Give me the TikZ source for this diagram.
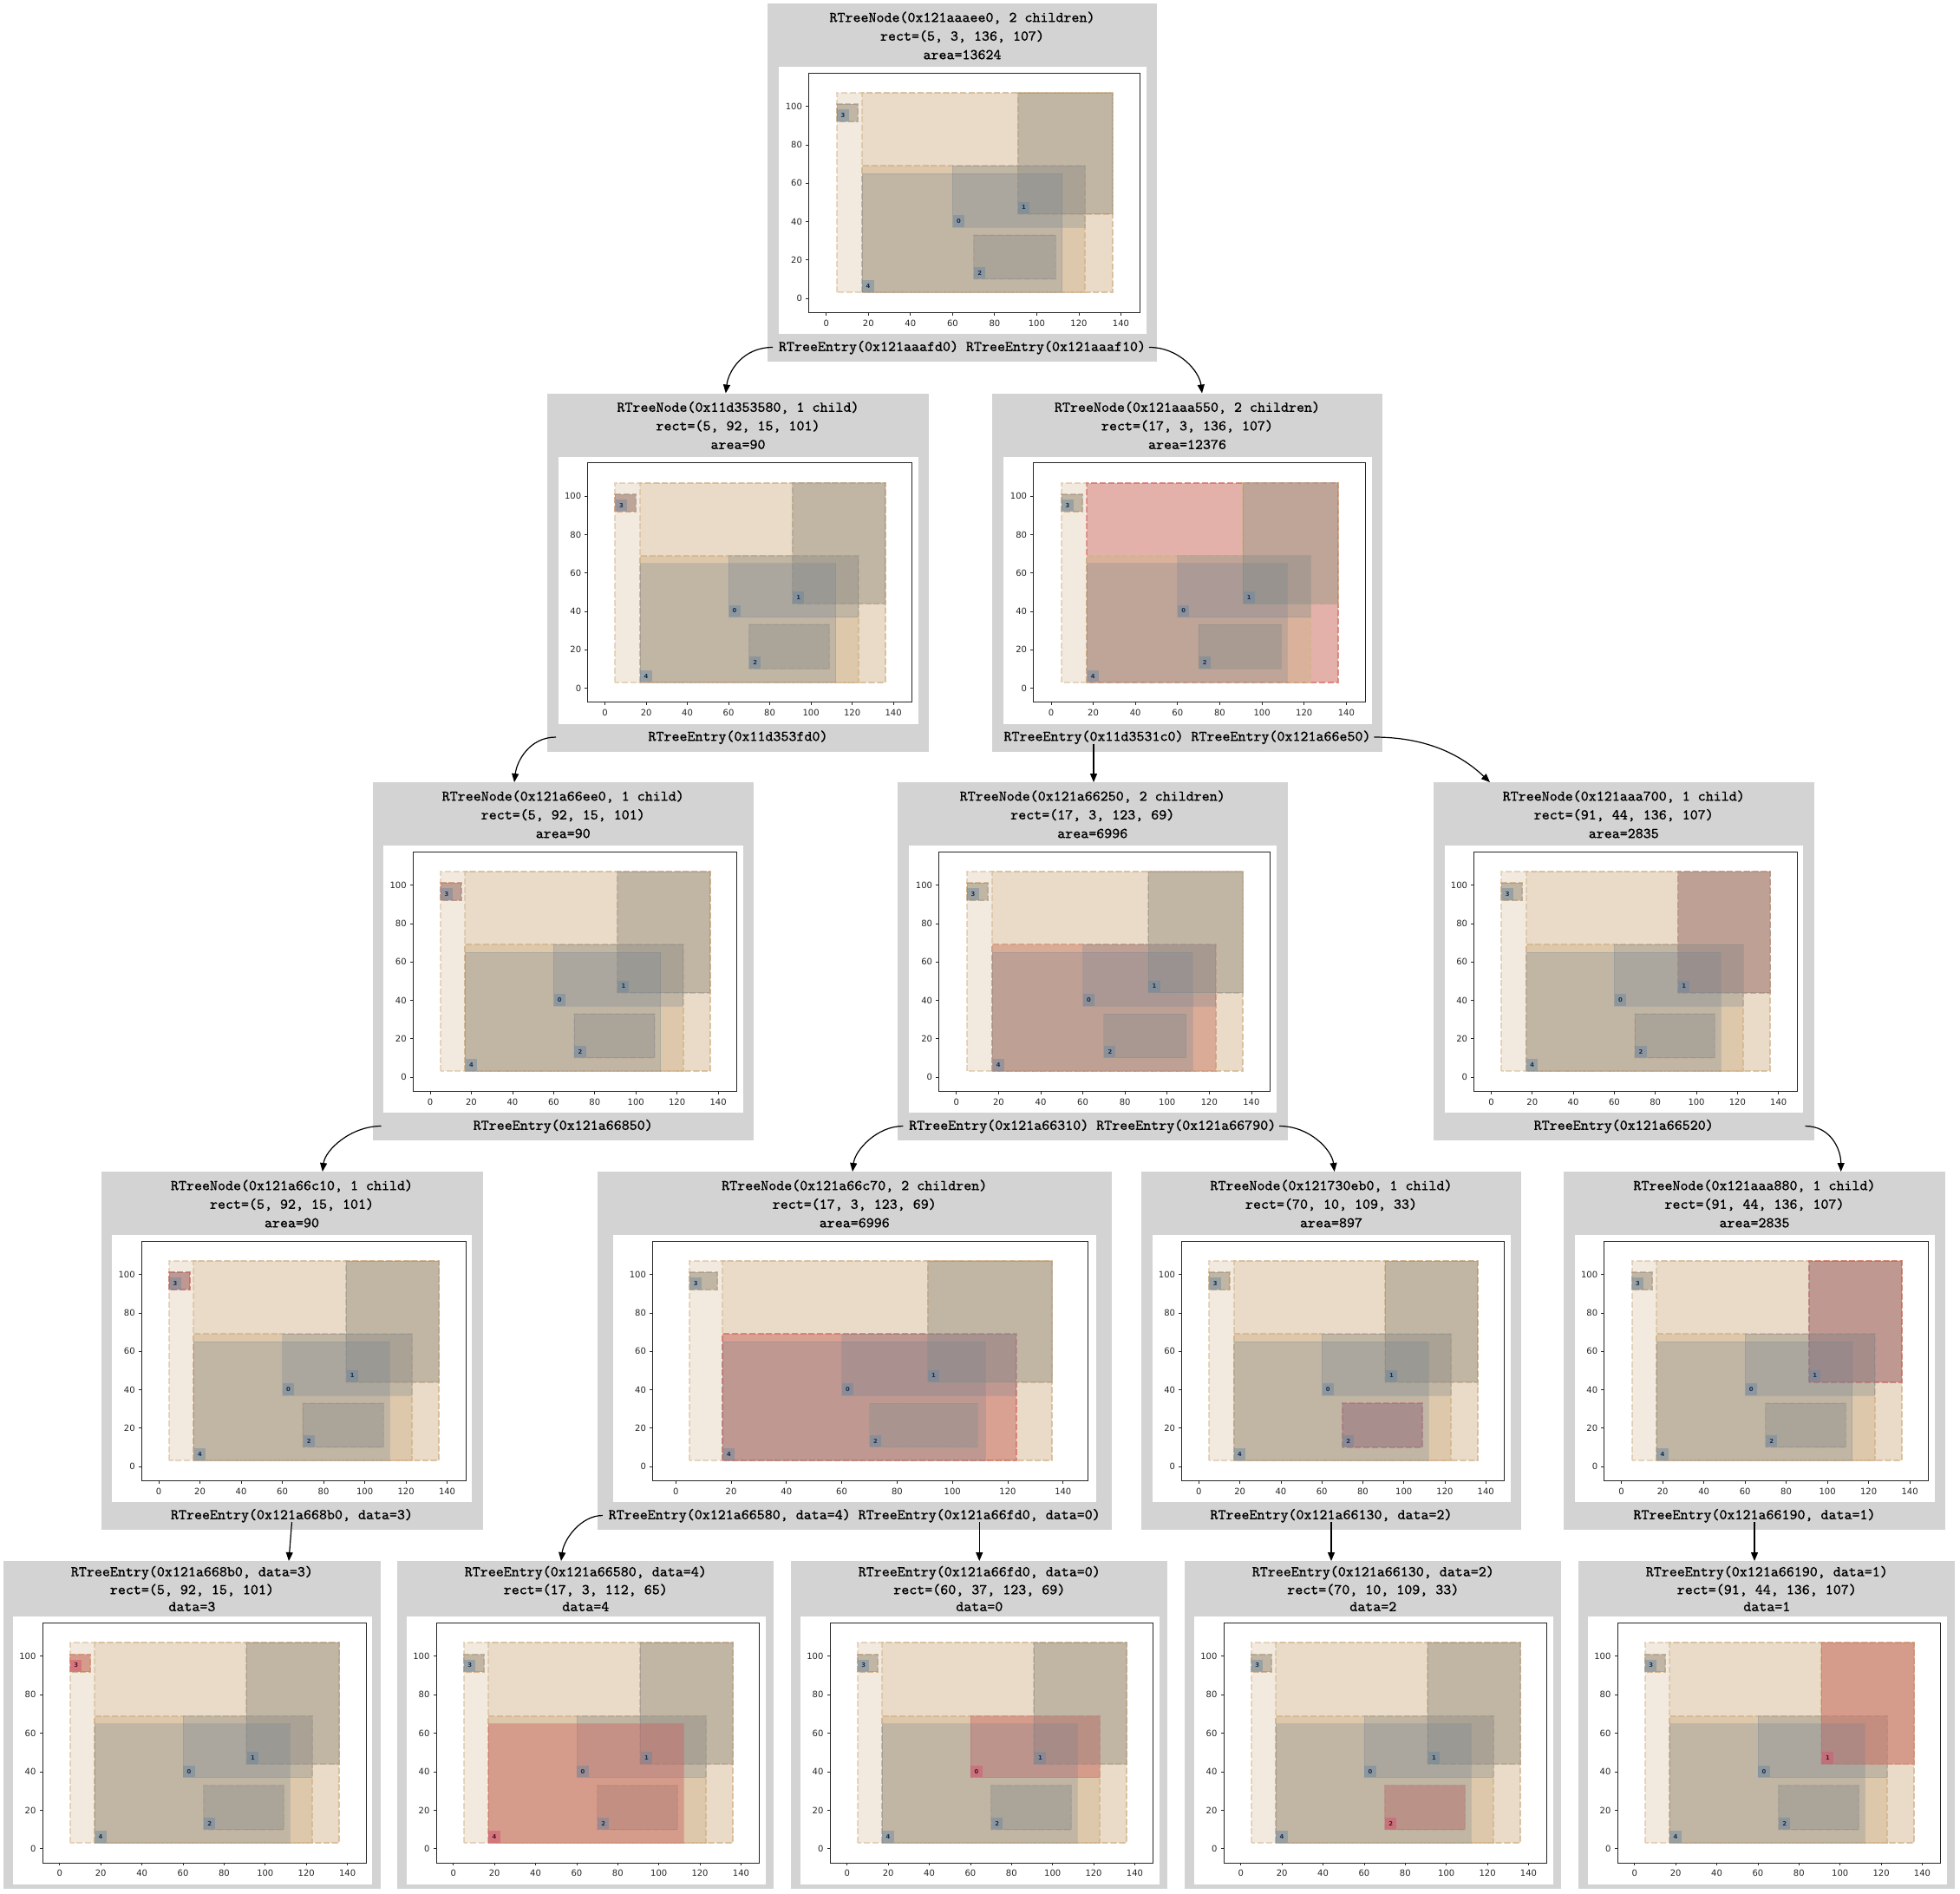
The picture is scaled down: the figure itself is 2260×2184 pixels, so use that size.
\documentclass[tikz,border=0pt]{standalone}
\usepackage{fontspec}
\usetikzlibrary{calc,arrows.meta}
\newfontfamily\tickfont{DejaVu Sans}
\newfontfamily\ttlfont{Latin Modern Mono}[FakeBold=0.5]
\definecolor{panelgray}{RGB}{211,211,211}
\definecolor{tanc}{RGB}{210,180,140}
\definecolor{slate}{RGB}{112,128,144}
\definecolor{hlred}{RGB}{205,92,92}
\definecolor{hledge}{RGB}{215,95,95}
\definecolor{labblue}{RGB}{105,135,160}
\definecolor{labtxt}{RGB}{25,45,80}
\definecolor{labredfill}{RGB}{210,90,115}
\definecolor{labredtxt}{RGB}{90,15,35}
\tikzset{
 panel/.style={fill=panelgray, draw=none, inner sep=0pt, outer sep=0pt},
 ttl/.style={font=\ttlfont\fontsize{8.57}{10}\selectfont, inner sep=0pt, outer sep=0pt, text height=6pt, text depth=1.7pt, text=black},
 tanrect/.style={fill=tanc, fill opacity=0.27, draw=tanc, draw opacity=0.5, line width=1pt, dash pattern=on 3.5pt off 1.4pt},
 hlnode/.style={fill=hlred, fill opacity=0.4, draw=hledge, draw opacity=0.55, line width=1pt, dash pattern=on 3.5pt off 1.4pt},
 datarect/.style={fill=slate, fill opacity=0.25, draw=slate, draw opacity=0.22, line width=0.4pt},
 hlentry/.style={fill=hlred, fill opacity=0.4, draw=hlred, draw opacity=0.3, line width=0.4pt},
 lab/.style={anchor=south west, fill=labblue, fill opacity=0.45, text opacity=1, text=labtxt, font=\tickfont\bfseries\fontsize{3.4}{4}\selectfont, inner sep=0pt, minimum width=6.6pt, minimum height=6.8pt},
 labred/.style={lab, fill=labredfill, fill opacity=0.55, text=labredtxt},
 axisline/.style={draw=black!85, line width=0.4pt},
 ticklab/.style={font=\tickfont\fontsize{5}{5}\selectfont, text=black!85, inner sep=0pt, text height=3.6pt, text depth=0pt},
 conn/.style={draw=black, line width=0.6pt, -{Triangle[length=5pt,width=4pt]}},
}
% #1 bx, #2 by, #3 W, #4 H, #5 highlighted node, #6 highlighted entry, #7 name prefix
\newcommand\rplot[7]{%
  \pgfmathsetmacro\ROx{#1+0.1304*#3}%
  \pgfmathsetmacro\ROy{#2+0.8669*#4}%
  \pgfmathsetmacro\RUx{0.00572*#3*0.5}%
  \pgfmathsetmacro\RUy{0.007185*#4*0.5}%
  \fill[white] (#1,#2) rectangle ++(#3,#4);
  \begin{scope}[shift={(\ROx,\ROy)}, x={(\RUx pt,0pt)}, y={(0pt,\RUy pt)}]
    \foreach \i/\xa/\ya/\xb/\yb in {1/5/3/136/107,2/5/92/15/101,3/17/3/136/107,4/5/92/15/101,5/17/3/123/69,6/91/44/136/107,7/5/92/15/101,8/17/3/123/69,9/70/10/109/33,10/91/44/136/107}{%
      \ifnum\i=#5\relax
        \filldraw[hlnode] (\xa,\ya) rectangle (\xb,\yb);
      \else
        \filldraw[tanrect] (\xa,\ya) rectangle (\xb,\yb);
      \fi}
    \foreach \i/\xa/\ya/\xb/\yb in {0/60/37/123/69,1/91/44/136/107,2/70/10/109/33,3/5/92/15/101,4/17/3/112/65}{%
      \ifnum\i=#6\relax
        \filldraw[hlentry] (\xa,\ya) rectangle (\xb,\yb);
      \else
        \filldraw[datarect] (\xa,\ya) rectangle (\xb,\yb);
      \fi}
    \foreach \i/\xa/\ya in {0/60/37,1/91/44,2/70/10,3/5/92,4/17/3}{%
      \ifnum\i=#6\relax
        \node[labred] (#7-l\i) at (\xa,\ya) {\i};
      \else
        \node[lab] (#7-l\i) at (\xa,\ya) {\i};
      \fi}
    \draw[axisline] (-8.35,-7.25) rectangle (149,117.5);
    \foreach \t in {0,20,...,140}{%
      \draw[axisline] (\t,-7.25) -- ++(0pt,-1.75pt);
      \node[ticklab, anchor=north, yshift=-4.2pt] (#7-x\t) at (\t,-7.25) {\t};}
    \foreach \t in {0,20,...,100}{%
      \draw[axisline] (-8.35,\t) -- ++(-1.75pt,0pt);
      \node[ticklab, anchor=east, xshift=-3.6pt] (#7-y\t) at (-8.35,\t) {\t};}
  \end{scope}}
% #1 name #2 L #3 R #4 T #5-#7 lines #8 highlight #9 inset
\newcommand\nodepanel[9]{%
  \pgfmathsetmacro\PCx{(#2+#3)/2}%
  \pgfmathsetmacro\PBx{#2+#9}%
  \pgfmathsetmacro\PBw{#3-#2-2*#9}%
  \pgfmathsetmacro\PBy{#4+73}%
  \node[panel, anchor=north west, minimum width={(#3-#2)*0.5pt}, minimum height=206.5pt] (#1) at (#2,#4) {};
  \rplot{\PBx}{\PBy}{\PBw}{308}{#8}{-1}{#1}%
  \node[ttl] (#1-a) at (\PCx,#4+17) {#5};
  \node[ttl] (#1-b) at (\PCx,#4+38.5) {#6};
  \node[ttl] (#1-c) at (\PCx,#4+60) {#7};
}
% #1 name #2 L #3 R #4-#6 lines #7 highlighted entry
\newcommand\leafpanel[7]{%
  \pgfmathsetmacro\PCx{(#2+#3)/2}%
  \pgfmathsetmacro\PBx{#2+10.5}%
  \pgfmathsetmacro\PBw{#3-#2-20}%
  \node[panel, anchor=north west, minimum width={(#3-#2)*0.5pt}, minimum height=189pt] (#1) at (#2,1800) {};
  \rplot{\PBx}{1864}{\PBw}{309}{0}{#7}{#1}%
  \node[ttl] (#1-a) at (\PCx,1813.3) {#4};
  \node[ttl] (#1-b) at (\PCx,1834) {#5};
  \node[ttl] (#1-c) at (\PCx,1853.5) {#6};
}
\begin{document}
\begin{tikzpicture}[x=0.5pt,y=-0.5pt]
\useasboundingbox (0,0) rectangle (2260,2184);
\fill[white] (0,0) rectangle (2260,2184);
% ---- row 1
\nodepanel{p1}{885}{1334}{4}{RTreeNode(0x121aaaee0, 2 children)}{rect=(5, 3, 136, 107)}{area=13624}{0}{12.5}
\node[ttl, anchor=east] (p1l) at (1105,400.5) {RTreeEntry(0x121aaafd0)};
\node[ttl, anchor=west] (p1r) at (1114,400.5) {RTreeEntry(0x121aaaf10)};
% ---- row 2
\nodepanel{p2}{631}{1071}{453.5}{RTreeNode(0x11d353580, 1 child)}{rect=(5, 92, 15, 101)}{area=90}{2}{12.5}
\node[ttl, minimum width=210pt] (p2p) at (851,850) {RTreeEntry(0x11d353fd0)};
\nodepanel{p3}{1144}{1594}{453.5}{RTreeNode(0x121aaa550, 2 children)}{rect=(17, 3, 136, 107)}{area=12376}{3}{12.5}
\node[ttl, anchor=east] (p3l) at (1364.5,850) {RTreeEntry(0x11d3531c0)};
\node[ttl, anchor=west] (p3r) at (1373.5,850) {RTreeEntry(0x121a66e50)};
% ---- row 3
\nodepanel{p4}{429.5}{869}{902}{RTreeNode(0x121a66ee0, 1 child)}{rect=(5, 92, 15, 101)}{area=90}{4}{12.5}
\node[ttl, minimum width=209.75pt] (p4p) at (649.25,1298.5) {RTreeEntry(0x121a66850)};
\nodepanel{p5}{1035}{1484.5}{902}{RTreeNode(0x121a66250, 2 children)}{rect=(17, 3, 123, 69)}{area=6996}{5}{12.5}
\node[ttl, anchor=east] (p5l) at (1255.25,1298.5) {RTreeEntry(0x121a66310)};
\node[ttl, anchor=west] (p5r) at (1264.25,1298.5) {RTreeEntry(0x121a66790)};
\nodepanel{p6}{1653}{2091.5}{902}{RTreeNode(0x121aaa700, 1 child)}{rect=(91, 44, 136, 107)}{area=2835}{6}{12.5}
\node[ttl, minimum width=209.25pt] (p6p) at (1872.25,1298.5) {RTreeEntry(0x121a66520)};
% ---- row 4
\nodepanel{p7}{116.5}{556.5}{1351}{RTreeNode(0x121a66c10, 1 child)}{rect=(5, 92, 15, 101)}{area=90}{7}{12.5}
\node[ttl, minimum width=210pt] (p7p) at (336.5,1747.5) {RTreeEntry(0x121a668b0, data=3)};
\nodepanel{p8}{689}{1281.5}{1351}{RTreeNode(0x121a66c70, 2 children)}{rect=(17, 3, 123, 69)}{area=6996}{8}{17.5}
\node[ttl, anchor=east] (p8l) at (980.75,1747.5) {RTreeEntry(0x121a66580, data=4)};
\node[ttl, anchor=west] (p8r) at (989.75,1747.5) {RTreeEntry(0x121a66fd0, data=0)};
\nodepanel{p9}{1316}{1754}{1351}{RTreeNode(0x121730eb0, 1 child)}{rect=(70, 10, 109, 33)}{area=897}{9}{12.5}
\node[ttl, minimum width=209pt] (p9p) at (1535,1747.5) {RTreeEntry(0x121a66130, data=2)};
\nodepanel{p10}{1803}{2243}{1351}{RTreeNode(0x121aaa880, 1 child)}{rect=(91, 44, 136, 107)}{area=2835}{10}{12.5}
\node[ttl, minimum width=210pt] (p10p) at (2023,1747.5) {RTreeEntry(0x121a66190, data=1)};
% ---- leaves
\leafpanel{l1}{4.3}{438.5}{RTreeEntry(0x121a668b0, data=3)}{rect=(5, 92, 15, 101)}{data=3}{3}
\leafpanel{l2}{458.3}{892.3}{RTreeEntry(0x121a66580, data=4)}{rect=(17, 3, 112, 65)}{data=4}{4}
\leafpanel{l3}{912.3}{1346.3}{RTreeEntry(0x121a66fd0, data=0)}{rect=(60, 37, 123, 69)}{data=0}{0}
\leafpanel{l4}{1366.3}{1800.3}{RTreeEntry(0x121a66130, data=2)}{rect=(70, 10, 109, 33)}{data=2}{2}
\leafpanel{l5}{1820.3}{2254.3}{RTreeEntry(0x121a66190, data=1)}{rect=(91, 44, 136, 107)}{data=1}{1}
% ---- connectors
\draw[conn] ([xshift=-3.5pt]p1l.west) .. controls +(-35,0) and +(3,-25) .. ($(p2.north west)+(205.8,0)$);
\draw[conn] ([xshift=2pt]p1r.east) .. controls +(35,0) and +(-3,-25) .. ($(p3.north west)+(242,0)$);
\draw[conn] (p2p.west) .. controls +(-30,0) and +(3,-25) .. ($(p4.north west)+(163.5,0)$);
\draw[conn] (p3l.south) -- (p3l.south |- p5.north);
\draw[conn] ([xshift=2pt]p3r.east) .. controls +(50,0) and +(-40,-38) .. ($(p6.north west)+(65,0)$);
\draw[conn] (p4p.west) .. controls +(-35,0) and +(3,-25) .. ($(p7.north west)+(255.4,0)$);
\draw[conn] ([xshift=-3.5pt]p5l.west) .. controls +(-30,0) and +(3,-25) .. ($(p8.north west)+(294,0)$);
\draw[conn] ([xshift=2pt]p5r.east) .. controls +(35,0) and +(-3,-25) .. ($(p9.north west)+(222.7,0)$);
\draw[conn] (p6p.east) .. controls +(30,0) and +(0,-25) .. ($(p10.north west)+(319.7,0)$);
\draw[conn] (p7p.south) -- ($(l1.north west)+(328.7,0)$);
\draw[conn] ([xshift=-3.5pt]p8l.west) .. controls +(-25,0) and +(3,-25) .. ($(l2.north west)+(188.7,0)$);
\draw[conn] (p8r.south) -- (p8r.south |- l3.north);
\draw[conn] (p9p.south) -- (p9p.south |- l4.north);
\draw[conn] (p10p.south) -- (p10p.south |- l5.north);
\end{tikzpicture}
\end{document}
